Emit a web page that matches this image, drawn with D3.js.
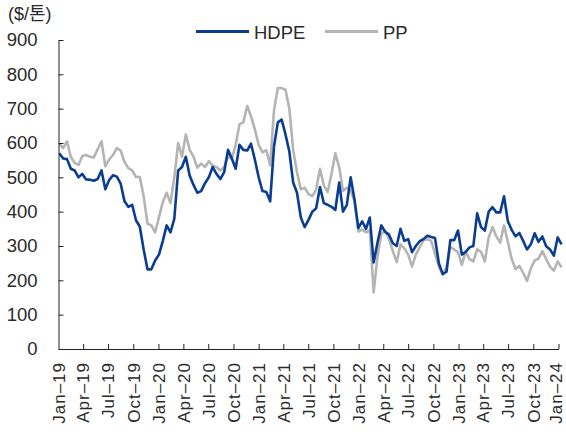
<!DOCTYPE html>
<html>
<head>
<meta charset="utf-8">
<script src="https://cdn.jsdelivr.net/npm/d3@7"></script>
<style>
  body { margin: 0; background: #fff; }
  svg text { font-family: "Liberation Sans", Arial, "Noto Sans CJK KR", sans-serif; fill: #2a2a2a; }
</style>
</head>
<body>
<div id="chart"></div>
<script>
// biweekly observations, starting 2019-01-04
const startDate = "2019-01-04"
const stepDays = 14

const hdpe = [570,555,553,525,520,500,510,494,493,490,495,520,465,492,506,502,482,430,414,420,
  375,356,290,232,232,258,275,315,360,340,380,520,530,560,505,478,455,460,483,500,
  530,510,495,515,580,555,525,595,580,578,598,552,500,460,457,430,590,660,668,625,
  575,485,455,383,355,376,400,410,472,425,420,414,405,485,400,420,500,435,352,372,
  350,383,252,310,360,341,333,308,300,350,315,320,282,300,314,320,330,326,323,250,
  218,225,317,317,345,275,283,296,300,395,355,345,400,413,398,398,445,372,347,328,
  338,315,290,305,337,312,328,299,290,272,325,305]

const pp = [598,585,605,560,542,536,562,565,560,558,582,605,532,552,565,585,578,545,527,520,
  501,501,445,365,360,340,384,428,455,425,500,600,560,625,580,560,528,540,530,547,
  534,530,520,530,560,555,594,655,660,708,678,640,595,573,579,535,695,760,760,755,
  700,580,515,465,470,451,445,465,525,476,457,510,570,530,460,470,462,430,342,348,
  340,345,165,270,335,345,320,285,253,305,293,275,240,275,296,317,320,315,278,240,
  218,238,297,290,282,245,284,262,255,290,283,255,325,355,328,310,360,312,262,233,
  242,222,198,235,258,263,285,262,240,228,255,238]

const seriesNames = ["HDPE", "PP"]
const seriesColors = ["#0a3d91", "#b4b4b4"]
const yTicks = [0, 100, 200, 300, 400, 500, 600, 700, 800, 900]
const xTickMonths = ["2019-01", "2019-04", "2019-07", "2019-10", "2020-01", "2020-04", "2020-07", "2020-10",
  "2021-01", "2021-04", "2021-07", "2021-10", "2022-01", "2022-04", "2022-07", "2022-10",
  "2023-01", "2023-04", "2023-07", "2023-10", "2024-01"]

const width = 566, height = 432
const margin = {top: 40, right: 7.5, bottom: 83, left: 58.5}

const parseDay = d3.timeParse("%Y-%m-%d")
const parseMonth = d3.timeParse("%Y-%m")
const t0 = parseDay(startDate)
const dates = hdpe.map((d, i) => d3.timeDay.offset(t0, i * stepDays))

const data = dates.map((d, i) => ({date: d, hdpe: hdpe[i], pp: pp[i]}))

const svg = d3.select("#chart").append("svg")
    .attr("width", width)
    .attr("height", height)

const x = d3.scaleTime()
    .domain([parseMonth("2019-01"), parseMonth("2024-01")])
    .range([margin.left, 558.5])

const y = d3.scaleLinear()
    .domain([0, 900])
    .range([height - margin.bottom, margin.top])

// lines, PP underneath
const keys = ["pp", "hdpe"]
keys.forEach(k => {
    const line = d3.line()
        .x(d => x(d.date))
        .y(d => y(d[k]))
    svg.append("path")
        .attr("fill", "none")
        .attr("stroke", k === "hdpe" ? seriesColors[0] : seriesColors[1])
        .attr("stroke-width", 2.6)
        .attr("stroke-linejoin", "round")
        .attr("d", line(data))
})

// y axis
const yAxis = svg.append("g")
    .attr("transform", `translate(${x.range()[0]},0)`)
    .call(d3.axisLeft(y).tickValues(yTicks).tickSizeInner(-5).tickSizeOuter(0).tickPadding(21))
yAxis.select(".domain").attr("stroke", "#222")
yAxis.selectAll(".tick line").attr("stroke", "#222")
yAxis.selectAll("text").attr("font-size", "18.5px").attr("fill", "#2a2a2a")

// x axis
const fmt = d3.timeFormat("%b")
const fmtY = d3.timeFormat("%y")
const xAxis = svg.append("g")
    .attr("transform", `translate(0,${y(0)})`)
    .call(d3.axisBottom(x)
        .tickValues(xTickMonths.map(parseMonth))
        .tickSizeInner(-5).tickSizeOuter(0)
        .tickFormat(d => fmt(d) + "\u2013" + fmtY(d)))
xAxis.select(".domain").attr("stroke", "#222")
xAxis.selectAll(".tick line").attr("stroke", "#222")
xAxis.selectAll(".tick").filter((d, i) => i === 0).select("line").remove()
const lastTick = xTickMonths.length - 1
xAxis.selectAll("text")
    .attr("font-size", "17px")
    .attr("letter-spacing", "1px")
    .attr("fill", "#2a2a2a")
    .attr("text-anchor", "end")
    .attr("dy", "0.34em")
    // last label nudged so it stays inside the page
    .attr("transform", (d, i) => `translate(${i === lastTick ? -3 : 0},13) rotate(-90)`)
    .attr("y", 0)
    .attr("x", 0)

// unit label
svg.append("text")
    .attr("x", 8)
    .attr("y", 20)
    .attr("font-size", "18px")
    .text("($/톤)")

// legend
const legend = svg.append("g").attr("transform", "translate(196,31.5)")
const legendX = [0, 129]
seriesNames.forEach((name, i) => {
    const g = legend.append("g").attr("transform", `translate(${legendX[i]},0)`)
    g.append("line")
        .attr("x1", 0).attr("x2", 53)
        .attr("stroke", seriesColors[i])
        .attr("stroke-width", 2.8)
    g.append("text")
        .attr("x", 58)
        .attr("y", 7)
        .attr("font-size", "18.5px")
        .text(name)
})
</script>
</body>
</html>
